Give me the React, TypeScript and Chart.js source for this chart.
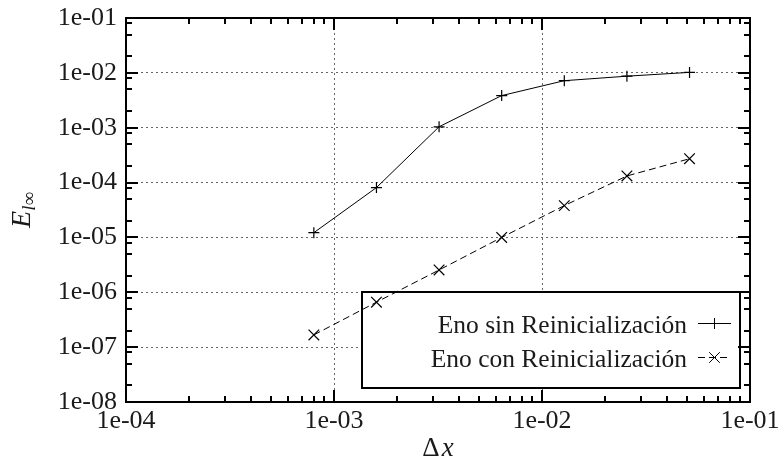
import React, { useEffect, useRef } from 'react';
import { Chart, registerables } from 'chart.js';

Chart.register(...registerables);

// ---- data ----
const dx = [0.0008, 0.0016, 0.0032, 0.0064, 0.0128, 0.0256, 0.0512];
const enoSin = [1.22e-5, 8.1e-5, 1.04e-3, 3.85e-3, 7.2e-3, 8.7e-3, 1.02e-2];
const enoCon = [1.67e-7, 6.6e-7, 2.55e-6, 1.0e-5, 3.8e-5, 1.32e-4, 2.72e-4];
const seriesLabels = ['Eno sin Reinicialización', 'Eno con Reinicialización'];

const xTickValues = [1e-4, 1e-3, 1e-2, 1e-1];
const xTickLabels = ['1e-04', '1e-03', '1e-02', '1e-01'];
const yTickValues = [1e-8, 1e-7, 1e-6, 1e-5, 1e-4, 1e-3, 1e-2, 1e-1];
const yTickLabels = ['1e-08', '1e-07', '1e-06', '1e-05', '1e-04', '1e-03', '1e-02', '1e-01'];
const xMinorMultipliers = [2, 3, 4, 5, 6, 7, 8, 9];
const yMinorMultipliers = [2, 5, 8];

const SERIF = '"Liberation Serif", "Times New Roman", serif';
const DASH = [7, 4];

const gnuplotPlugin = {
  id: 'gnuplotDecor',
  beforeDatasetsDraw(chart: any) {
    const { ctx, chartArea: a } = chart;
    const boxR = a.right - 10;
    const boxB = a.bottom - 14;
    const boxW = 378;
    const boxH = 96;
    ctx.save();
    ctx.fillStyle = '#ffffff';
    ctx.fillRect(boxR - boxW, boxB - boxH, boxW, boxH);
    ctx.strokeStyle = '#000';
    ctx.lineWidth = 2;
    ctx.setLineDash([]);
    ctx.strokeRect(boxR - boxW, boxB - boxH, boxW, boxH);
    ctx.restore();
  },
  afterDatasetsDraw(chart: any) {
    const { ctx, chartArea: a, scales } = chart;
    const xs = scales.x;
    const ys = scales.y;
    ctx.save();
    ctx.strokeStyle = '#000';
    ctx.lineWidth = 2;
    ctx.setLineDash([]);
    ctx.beginPath();
    const MAJ = 12;
    const MIN = 6;
    xTickValues.forEach((d, i) => {
      const px = Math.round(xs.getPixelForValue(d));
      ctx.moveTo(px, a.bottom); ctx.lineTo(px, a.bottom - MAJ);
      ctx.moveTo(px, a.top); ctx.lineTo(px, a.top + MAJ);
      if (i < xTickValues.length - 1) {
        xMinorMultipliers.forEach((m) => {
          const q = Math.round(xs.getPixelForValue(d * m));
          ctx.moveTo(q, a.bottom); ctx.lineTo(q, a.bottom - MIN);
          ctx.moveTo(q, a.top); ctx.lineTo(q, a.top + MIN);
        });
      }
    });
    yTickValues.forEach((d, i) => {
      const py = Math.round(ys.getPixelForValue(d));
      ctx.moveTo(a.left, py); ctx.lineTo(a.left + MAJ, py);
      ctx.moveTo(a.right, py); ctx.lineTo(a.right - MAJ, py);
      if (i < yTickValues.length - 1) {
        yMinorMultipliers.forEach((m) => {
          const q = Math.round(ys.getPixelForValue(d * m));
          ctx.moveTo(a.left, q); ctx.lineTo(a.left + MIN, q);
          ctx.moveTo(a.right, q); ctx.lineTo(a.right - MIN, q);
        });
      }
    });
    ctx.stroke();
    ctx.strokeRect(a.left, a.top, a.right - a.left, a.bottom - a.top);

    // legend content
    const boxR = a.right - 10;
    const boxB = a.bottom - 14;
    const boxT = boxB - 96;
    const textR = boxR - 53;
    const sx0 = boxR - 42;
    const sx1 = boxR - 9;
    const sxc = (sx0 + sx1) / 2;
    ctx.fillStyle = '#1a1a1a';
    ctx.font = `25.5px ${SERIF}`;
    ctx.textAlign = 'right';
    ctx.textBaseline = 'alphabetic';
    ctx.fillText(chart.data.datasets[0].label, textR, boxT + 41);
    ctx.fillText(chart.data.datasets[1].label, textR, boxT + 75);
    ctx.lineWidth = 1;
    let yy = boxT + 31.5;
    ctx.beginPath();
    ctx.moveTo(sx0, yy); ctx.lineTo(sx1, yy);
    ctx.stroke();
    ctx.beginPath();
    ctx.moveTo(sxc, yy - 5.5); ctx.lineTo(sxc, yy + 5.5);
    ctx.stroke();
    yy = boxT + 65.5;
    ctx.setLineDash(DASH);
    ctx.beginPath();
    ctx.moveTo(sx0, yy); ctx.lineTo(sx1, yy);
    ctx.stroke();
    ctx.setLineDash([]);
    ctx.beginPath();
    const r = 5.3;
    ctx.moveTo(sxc - r, yy - r); ctx.lineTo(sxc + r, yy + r);
    ctx.moveTo(sxc - r, yy + r); ctx.lineTo(sxc + r, yy - r);
    ctx.stroke();

    // x title: Δx
    ctx.textAlign = 'left';
    ctx.font = `27px ${SERIF}`;
    const wD = ctx.measureText('Δ').width;
    ctx.font = `italic 27px ${SERIF}`;
    const wX = ctx.measureText('x').width;
    const cx = (a.left + a.right) / 2;
    const x0 = cx - (wD + wX + 2) / 2;
    ctx.font = `27px ${SERIF}`;
    ctx.fillText('Δ', x0, 456);
    ctx.font = `italic 27px ${SERIF}`;
    ctx.fillText('x', x0 + wD + 2, 456);

    // y title: E_{l∞}
    ctx.save();
    ctx.translate(30, (a.top + a.bottom) / 2);
    ctx.rotate(-Math.PI / 2);
    ctx.font = `italic 28px ${SERIF}`;
    const wE = ctx.measureText('E').width;
    ctx.font = `italic 19px ${SERIF}`;
    const wl = ctx.measureText('l').width;
    ctx.font = `19px ${SERIF}`;
    const wInf = ctx.measureText('∞').width;
    const total = wE + wl + wInf;
    let sx = -total / 2;
    ctx.font = `italic 28px ${SERIF}`;
    ctx.fillText('E', sx, 0);
    sx += wE;
    ctx.font = `italic 19px ${SERIF}`;
    ctx.fillText('l', sx, 5);
    sx += wl;
    ctx.font = `19px ${SERIF}`;
    ctx.fillText('∞', sx, 5);
    ctx.restore();

    ctx.restore();
  },
};

export default function App() {
  const ref = useRef<HTMLCanvasElement | null>(null);
  useEffect(() => {
    if (!ref.current) return;
    const chart = new Chart(ref.current, {
      type: 'scatter',
      data: {
        datasets: [
          {
            label: seriesLabels[0],
            data: dx.map((x, i) => ({ x, y: enoSin[i] })),
            showLine: true,
            borderColor: '#000',
            backgroundColor: '#000',
            borderWidth: 1,
            pointStyle: 'cross',
            pointRadius: 5.5,
            pointHoverRadius: 5.5,
            pointBorderWidth: 1.2,
            pointBorderColor: '#000',
          },
          {
            label: seriesLabels[1],
            data: dx.map((x, i) => ({ x, y: enoCon[i] })),
            showLine: true,
            borderColor: '#000',
            backgroundColor: '#000',
            borderWidth: 1,
            borderDash: DASH,
            pointStyle: 'crossRot',
            pointRadius: 7.5,
            pointHoverRadius: 7.5,
            pointBorderWidth: 1.2,
            pointBorderColor: '#000',
          },
        ],
      },
      options: {
        animation: false,
        responsive: false,
        events: [],
        layout: { padding: { top: 18, right: 30, left: 0, bottom: 0 } },
        plugins: {
          legend: { display: false },
          tooltip: { enabled: false },
        },
        scales: {
          x: {
            type: 'logarithmic',
            min: 1e-4,
            max: 1e-1,
            afterBuildTicks: (s: any) => {
              s.ticks = xTickValues.map((v) => ({ value: v }));
            },
            afterFit: (s: any) => {
              s.height = 61;
              s.paddingLeft = 0;
              s.paddingRight = 0;
            },
            ticks: {
              autoSkip: false,
              maxRotation: 0,
              padding: 4,
              color: '#1a1a1a',
              font: { family: SERIF, size: 26 },
              callback: (_v: any, i: number) => xTickLabels[i],
            },
            grid: { drawTicks: false, color: '#666', lineWidth: 1 },
            border: { display: false, dash: [2, 3] },
          },
          y: {
            type: 'logarithmic',
            min: 1e-8,
            max: 1e-1,
            afterBuildTicks: (s: any) => {
              s.ticks = yTickValues.map((v) => ({ value: v }));
            },
            afterFit: (s: any) => {
              s.width = 126;
              s.paddingTop = 0;
              s.paddingBottom = 0;
            },
            ticks: {
              autoSkip: false,
              padding: 9,
              color: '#1a1a1a',
              font: { family: SERIF, size: 26 },
              callback: (_v: any, i: number) => yTickLabels[i],
            },
            grid: { drawTicks: false, color: '#666', lineWidth: 1 },
            border: { display: false, dash: [2, 3] },
          },
        },
      },
      plugins: [gnuplotPlugin],
    });
    return () => chart.destroy();
  }, []);

  return (
    <div style={{ position: 'fixed', left: 0, top: 0, width: 780, height: 463, background: '#fff' }}>
      <canvas ref={ref} width={780} height={463} style={{ width: 780, height: 463, display: 'block' }} />
    </div>
  );
}
